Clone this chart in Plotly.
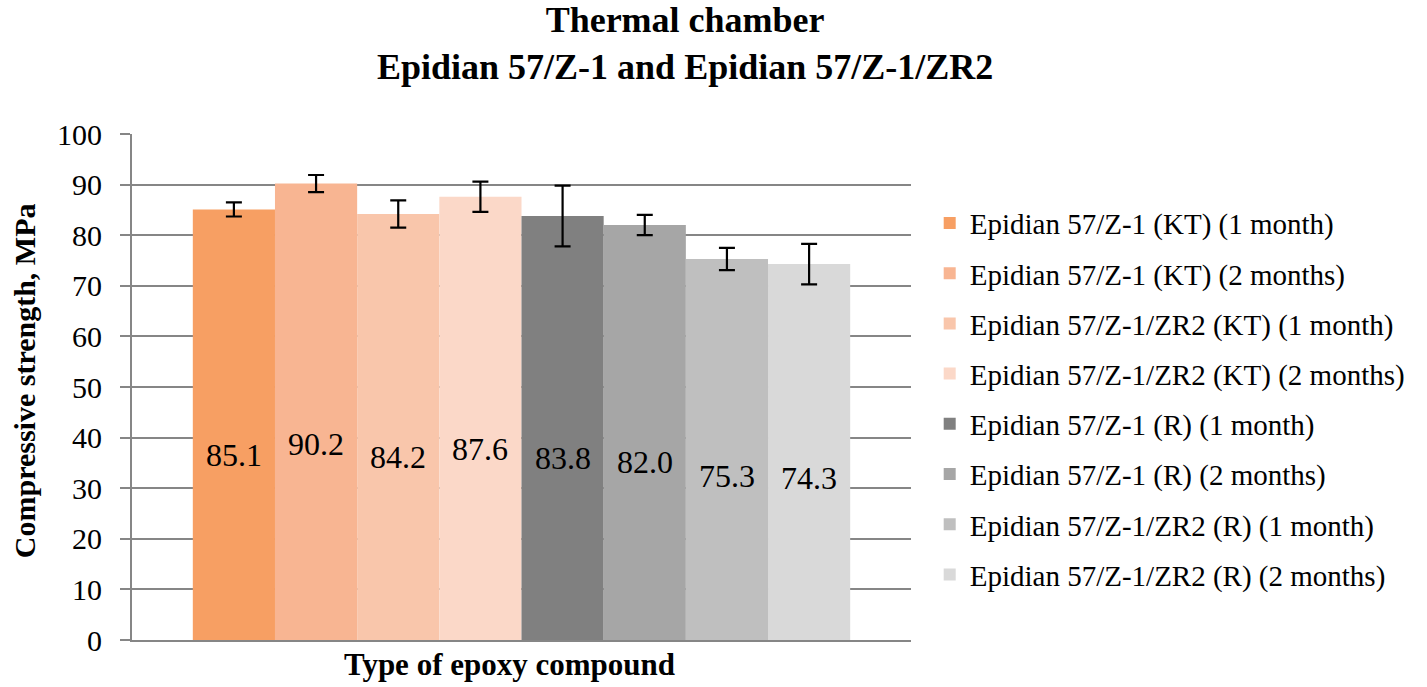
import plotly.graph_objects as go

series_names = [
    "Epidian 57/Z-1 (KT) (1 month)",
    "Epidian 57/Z-1 (KT) (2 months)",
    "Epidian 57/Z-1/ZR2 (KT) (1 month)",
    "Epidian 57/Z-1/ZR2 (KT) (2 months)",
    "Epidian 57/Z-1 (R) (1 month)",
    "Epidian 57/Z-1 (R) (2 months)",
    "Epidian 57/Z-1/ZR2 (R) (1 month)",
    "Epidian 57/Z-1/ZR2 (R) (2 months)",
]
values = [85.1, 90.2, 84.2, 87.6, 83.8, 82.0, 75.3, 74.3]
errors = [1.4, 1.7, 2.7, 3.0, 6.0, 2.0, 2.2, 4.0]
colors = ["#F79F63", "#F8B592", "#F9C6AB", "#FBD8C8",
          "#808080", "#A6A6A6", "#BFBFBF", "#D9D9D9"]
y_ticks = [0, 10, 20, 30, 40, 50, 60, 70, 80, 90, 100]
title_text = "<b>Thermal chamber<br>Epidian 57/Z-1 and Epidian 57/Z-1/ZR2</b>"
x_title = "<b>Type of epoxy compound</b>"
y_title = "<b>Compressive strength, MPa</b>"

FONT = "Liberation Serif, Times New Roman, serif"

fig = go.Figure()
for i, (name, v, e, c) in enumerate(zip(series_names, values, errors, colors)):
    fig.add_trace(go.Bar(
        x=[i], y=[v], name=name, width=1.0,
        marker=dict(color=c, line=dict(width=0)),
        error_y=dict(type="data", array=[e], visible=True,
                     color="black", thickness=2.2, width=8),
        legendgroup=f"g{i}",
    ))
    fig.add_annotation(x=i, y=v * 0.43, text=f"{v:.1f}", showarrow=False,
                       font=dict(family=FONT, size=32, color="black"),
                       xref="x", yref="y")

# titles as annotations for precise placement
fig.add_annotation(text=title_text, xref="paper", yref="paper", x=0.7105, y=1.179,
                   xanchor="center", yanchor="middle", showarrow=False,
                   font=dict(family=FONT, size=36, color="black"))
fig.add_annotation(text=x_title, xref="paper", yref="paper", x=0.484, y=-0.049,
                   xanchor="center", yanchor="middle", showarrow=False,
                   font=dict(family=FONT, size=31, color="black"))
fig.add_annotation(text=y_title, xref="paper", yref="paper", x=-0.137, y=0.512,
                   xanchor="center", yanchor="middle", showarrow=False, textangle=-90,
                   font=dict(family=FONT, size=30, color="black"))

fig.update_layout(
    width=1427, height=687,
    paper_bgcolor="white", plot_bgcolor="white",
    margin=dict(l=132, r=516, t=134, b=47, autoexpand=False),
    barmode="overlay",
    font=dict(family=FONT, color="black"),
    legend=dict(x=1.024, xanchor="left", y=0.476, yanchor="middle",
                font=dict(family=FONT, size=29, color="black"),
                tracegroupgap=9.5, itemwidth=30, bgcolor="rgba(0,0,0,0)"),
    showlegend=True,
)
fig.update_xaxes(range=[-1.24, 8.24], showticklabels=False, showgrid=False,
                 zeroline=False, showline=True, linecolor="#868686", linewidth=2,
                 ticks="", automargin=False)
fig.update_yaxes(range=[0, 100], tickvals=y_ticks, showgrid=True,
                 gridcolor="#868686", gridwidth=2, zeroline=False,
                 showline=True, linecolor="#868686", linewidth=2,
                 ticks="outside", ticklen=10, tickcolor="#868686", tickwidth=2,
                 ticklabelstandoff=12,
                 tickfont=dict(family=FONT, size=30, color="black"),
                 automargin=False)

fig.write_html("out.html", config={"displayModeBar": False},
               post_script="document.body.style.margin='0';")
